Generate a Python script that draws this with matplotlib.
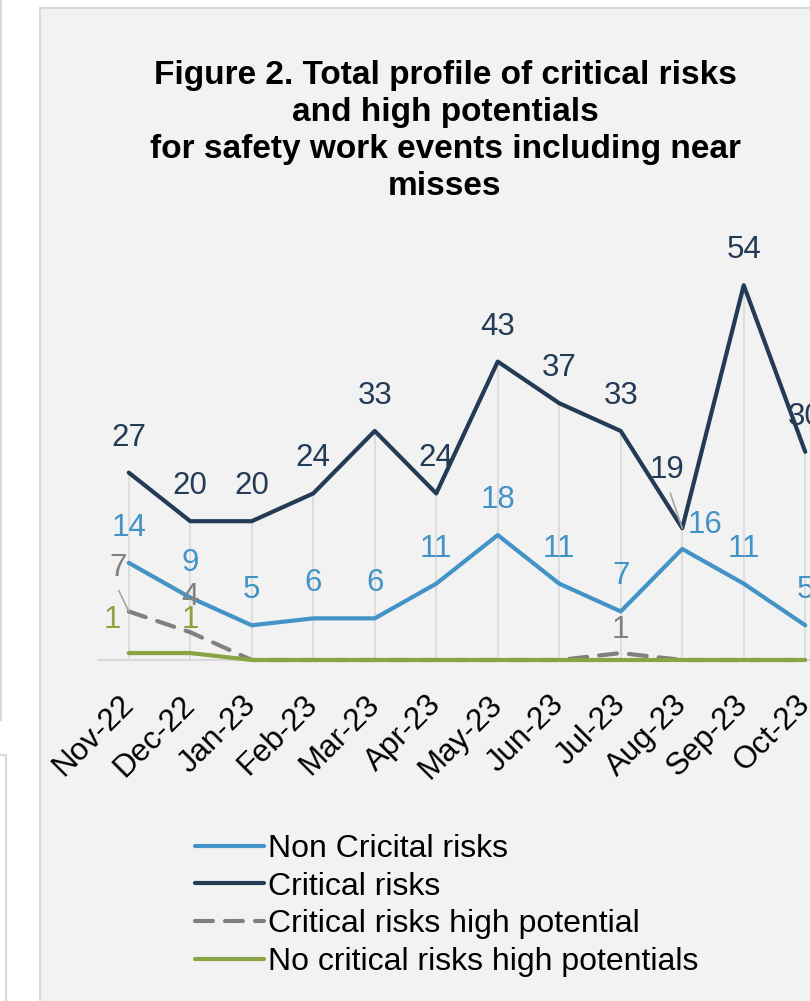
import matplotlib
matplotlib.use("Agg")
import matplotlib.pyplot as plt
from matplotlib.patches import Rectangle
from matplotlib.lines import Line2D

plt.rcParams['font.family'] = ['Liberation Sans', 'DejaVu Sans']

months = ["Nov-22", "Dec-22", "Jan-23", "Feb-23", "Mar-23", "Apr-23",
          "May-23", "Jun-23", "Jul-23", "Aug-23", "Sep-23", "Oct-23"]
non_critical = [14, 9, 5, 6, 6, 11, 18, 11, 7, 16, 11, 5]
critical = [27, 20, 20, 24, 33, 24, 43, 37, 33, 19, 54, 30]
critical_hp = [7, 4, 0, 0, 0, 0, 0, 0, 1, 0, 0, 0]
no_critical_hp = [1, 1, 0, 0, 0, 0, 0, 0, 0, 0, 0, 0]

labels = ["Non Cricital risks", "Critical risks",
          "Critical risks high potential", "No critical risks high potentials"]
title = ("Figure 2. Total profile of critical risks\nand high potentials\n"
         "for safety work events including near\nmisses")

C_BLUE = "#4393C6"
C_NAVY = "#243B55"
C_GRAY = "#808080"
C_GREEN = "#8BA443"
C_GRID = "#D9D9D9"

W, H = 810, 1001
fig = plt.figure(figsize=(W / 100, H / 100), dpi=100)
fig.patch.set_facecolor("white")

def fx(px):
    return px / W

def fy(py):
    return 1 - py / H

# panel background
fig.patches.append(Rectangle((fx(40), fy(1010)), fx(800), (1010 - 8) / H,
                             transform=fig.transFigure, facecolor="#F2F2F2",
                             edgecolor=C_GRID, linewidth=1.5, zorder=-10))
# fragments of neighbouring charts
for xs, ys in [([1, 1], [0, 720]), ([0, 6], [755, 755]), ([6, 6], [755, 1001])]:
    fig.lines.append(Line2D([fx(v) for v in xs], [fy(v) for v in ys],
                            transform=fig.transFigure, color=C_GRID, lw=1.5, zorder=-10))

# axes: baseline at y=660 px, 6.94 px per unit, category spacing 61.5 px
ax_left = 98
ax_w = 12 * 61.5
ymax = 60
unit = 6.94
ax = fig.add_axes([fx(ax_left), fy(660), ax_w / W, ymax * unit / H])
ax.set_zorder(5)
ax.set_facecolor("none")
ax.set_xlim(-0.5, 11.5)
ax.set_ylim(0, ymax)
for s in ["top", "left", "right"]:
    ax.spines[s].set_visible(False)
ax.spines["bottom"].set_color(C_GRID)
ax.spines["bottom"].set_linewidth(1.5)
ax.set_yticks([])
x = list(range(len(months)))
ax.set_xticks(x)
ax.set_xticklabels(months, rotation=45, ha="right", va="center",
                   rotation_mode="anchor", fontsize=22.5, color="black")
ax.tick_params(axis="x", length=0, pad=29)

# drop lines
tops = [max(a, b, c, d) for a, b, c, d in zip(non_critical, critical, critical_hp, no_critical_hp)]
ax.vlines(x, 0, tops, color=C_GRID, lw=1.2, zorder=1)

lw = 3.0
l1, = ax.plot(x, non_critical, color=C_BLUE, lw=lw, solid_capstyle="round", zorder=3,
              clip_on=False)
l2, = ax.plot(x, critical, color=C_NAVY, lw=lw, solid_capstyle="round", zorder=3,
              clip_on=False)
l3, = ax.plot(x, critical_hp, color=C_GRAY, lw=lw, dashes=(4.3, 2.9),
              dash_capstyle="round", zorder=3, clip_on=False)
l4, = ax.plot(x, no_critical_hp, color=C_GREEN, lw=lw, solid_capstyle="round", zorder=4,
              clip_on=False)

FS = 22.5

def lab(i, v, color, dx=0, dy=35):
    ax.annotate(str(v), (i, v), xytext=(dx, dy), textcoords="offset pixels",
                ha="center", va="center", fontsize=FS, color=color, zorder=5,
                annotation_clip=False)

for i, v in enumerate(critical):
    if i == 9:
        lab(i, v, C_NAVY, -15, 58)
    else:
        lab(i, v, C_NAVY)
for i, v in enumerate(non_critical):
    if i == 9:
        lab(i, v, C_BLUE, 23, 24)
    else:
        lab(i, v, C_BLUE)
lab(0, critical_hp[0], C_GRAY, -11, 43)
lab(1, critical_hp[1], C_GRAY, 0, 35)
lab(8, critical_hp[8], C_GRAY, 0, 23)
lab(0, no_critical_hp[0], C_GREEN, -16, 33)
lab(1, no_critical_hp[1], C_GREEN, 0, 33)

# leader lines
ax.annotate("", xy=(0, critical_hp[0]), xycoords="data",
            xytext=(-10, 21), textcoords="offset pixels",
            arrowprops=dict(arrowstyle="-", color="#A6A6A6", lw=1.2, shrinkA=0, shrinkB=0))
ax.annotate("", xy=(9, critical[9]), xycoords="data",
            xytext=(-12, 35), textcoords="offset pixels",
            arrowprops=dict(arrowstyle="-", color="#A6A6A6", lw=1.2, shrinkA=0, shrinkB=0))

# title
fig.text(fx(445), fy(131), title, ha="center", va="center", fontsize=24,
         fontweight="bold", linespacing=1.24, color="black")

# legend
fig.legend([l1, l2, l3, l4], labels, loc="upper left",
           bbox_to_anchor=(fx(195), fy(834)), frameon=False, fontsize=23,
           handlelength=2.15, handletextpad=0.15, labelspacing=0.24,
           borderpad=0, borderaxespad=0)

fig.savefig("out.png", dpi=100, facecolor=fig.get_facecolor())
